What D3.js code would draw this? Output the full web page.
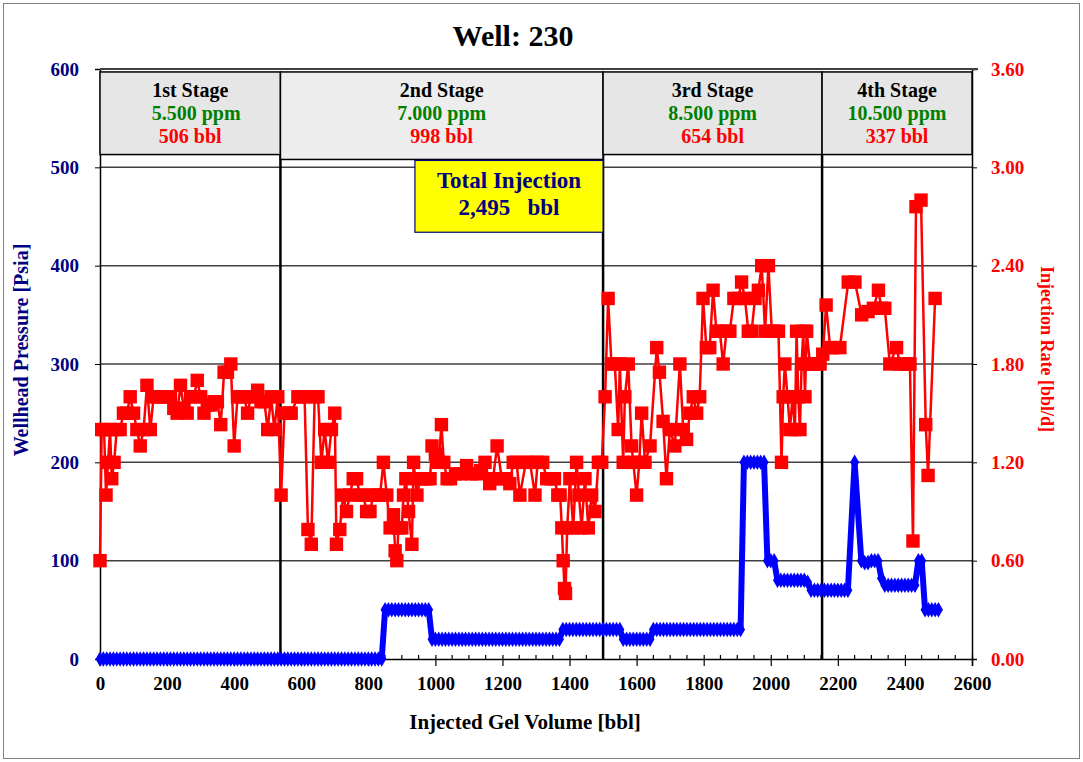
<!DOCTYPE html>
<html>
<head>
<meta charset="utf-8">
<script src="https://cdn.jsdelivr.net/npm/d3@7"></script>
<style>
  html, body { margin: 0; padding: 0; background: #ffffff; }
  svg text { font-family: "Liberation Serif", "Times New Roman", serif; font-weight: bold; }
</style>
</head>
<body>
<script>
// ---------- data ----------
const chartTitle = "Well: 230";
const xTicks = [0, 200, 400, 600, 800, 1000, 1200, 1400, 1600, 1800, 2000, 2200, 2400, 2600];
const pressureTicks = [0, 100, 200, 300, 400, 500, 600];
const rateTicks = [0, 0.6, 1.2, 1.8, 2.4, 3.0, 3.6];

const stageNames = ["1st Stage", "2nd Stage", "3rd Stage", "4th Stage"];
const stagePpm = ["5.500 ppm", "7.000 ppm", "8.500 ppm", "10.500 ppm"];
const stageVolumes = [506, 998, 654, 337];
// cumulative gel volume where each stage starts / the axis ends
const stageStarts = [0, 538, 1500, 2153];
const axisEnd = 2600;

// wellhead pressure (psia) against cumulative gel volume (bbl)
const pressureVolume = [
  0, 10, 20, 30, 40, 50, 60, 70, 80, 90,
  100, 110, 120, 130, 140, 150, 160, 170, 180, 190,
  200, 210, 220, 230, 240, 250, 260, 270, 280, 290,
  300, 310, 320, 330, 340, 350, 360, 370, 380, 390,
  400, 410, 420, 430, 440, 450, 460, 470, 480, 490,
  500, 510, 520, 530, 540, 550, 560, 570, 580, 590,
  600, 610, 620, 630, 640, 650, 660, 670, 680, 690,
  700, 710, 720, 730, 740, 750, 760, 770, 780, 790,
  800, 810, 820, 830, 840, 850, 860, 870, 880, 890,
  900, 910, 920, 930, 940, 950, 960, 970, 980, 990,
  1000, 1010, 1020, 1030, 1040, 1050, 1060, 1070, 1080, 1090,
  1100, 1110, 1120, 1130, 1140, 1150, 1160, 1170, 1180, 1190,
  1200, 1210, 1220, 1230, 1240, 1250, 1260, 1270, 1280, 1290,
  1300, 1310, 1320, 1330, 1340, 1350, 1360, 1370, 1380, 1390,
  1400, 1410, 1420, 1430, 1440, 1450, 1460, 1470, 1480, 1490,
  1500, 1510, 1520, 1530, 1540, 1550, 1560, 1570, 1580, 1590,
  1600, 1610, 1620, 1630, 1640, 1650, 1660, 1670, 1680, 1690,
  1700, 1710, 1720, 1730, 1740, 1750, 1760, 1770, 1780, 1790,
  1800, 1810, 1820, 1830, 1840, 1850, 1860, 1870, 1880, 1890,
  1900, 1910, 1920, 1930, 1940, 1950, 1960, 1970, 1980, 1990,
  2000, 2010, 2020, 2030, 2040, 2050, 2060, 2070, 2080, 2090,
  2100, 2110, 2120, 2130, 2140, 2150, 2160, 2170, 2180, 2190,
  2200, 2210, 2220, 2230, 2250, 2270, 2280, 2290, 2300, 2310,
  2320, 2330, 2340, 2350, 2360, 2370, 2380, 2390, 2400, 2410,
  2420, 2430, 2440, 2450, 2460, 2470, 2480, 2490, 2500
];
const pressure = [
  0, 0, 0, 0, 0, 0, 0, 0, 0, 0,
  0, 0, 0, 0, 0, 0, 0, 0, 0, 0,
  0, 0, 0, 0, 0, 0, 0, 0, 0, 0,
  0, 0, 0, 0, 0, 0, 0, 0, 0, 0,
  0, 0, 0, 0, 0, 0, 0, 0, 0, 0,
  0, 0, 0, 0, 0, 0, 0, 0, 0, 0,
  0, 0, 0, 0, 0, 0, 0, 0, 0, 0,
  0, 0, 0, 0, 0, 0, 0, 0, 0, 0,
  0, 0, 0, 0, 0, 50, 50, 50, 50, 50,
  50, 50, 50, 50, 50, 50, 50, 50, 50, 20,
  20, 20, 20, 20, 20, 20, 20, 20, 20, 20,
  20, 20, 20, 20, 20, 20, 20, 20, 20, 20,
  20, 20, 20, 20, 20, 20, 20, 20, 20, 20,
  20, 20, 20, 20, 20, 20, 20, 20, 30, 30,
  30, 30, 30, 30, 30, 30, 30, 30, 30, 30,
  30, 30, 30, 30, 30, 30, 20, 20, 20, 20,
  20, 20, 20, 20, 20, 30, 30, 30, 30, 30,
  30, 30, 30, 30, 30, 30, 30, 30, 30, 30,
  30, 30, 30, 30, 30, 30, 30, 30, 30, 30,
  30, 30, 200, 200, 200, 200, 200, 200, 200, 100,
  100, 100, 80, 80, 80, 80, 80, 80, 80, 80,
  80, 78, 70, 70, 70, 70, 70, 70, 70, 70,
  70, 70, 70, 70, 200, 100, 98, 98, 100, 100,
  100, 82, 75, 75, 75, 75, 75, 75, 75, 75,
  75, 75, 100, 100, 50, 50, 50, 50, 50
];

// injection rate readings (bbl/d) against cumulative volume (bbl)
const rateVolume = [
  0, 5, 12, 18, 24, 30, 35, 42, 50, 60, 70, 80, 90, 100, 110, 120, 130, 140, 150, 160,
  170, 180, 190, 200, 210, 220, 230, 240, 250, 260, 270, 280, 290, 300, 310, 320, 330, 340, 350, 360,
  370, 380, 390, 400, 410, 420, 430, 440, 450, 460, 470, 480, 490, 500, 510, 520, 530, 540, 550, 560,
  570, 590, 600, 610, 620, 630, 640, 650, 660, 670, 680, 690, 700, 705, 715, 725, 735, 745, 755, 765,
  775, 785, 795, 805, 815, 825, 835, 845, 855, 865, 875, 880, 885, 890, 900, 905, 912, 920, 930, 935,
  945, 955, 965, 975, 984, 990, 1000, 1010, 1018, 1025, 1035, 1045, 1060, 1075, 1093, 1108, 1123, 1135, 1148, 1162,
  1172, 1184, 1198, 1212, 1222, 1232, 1242, 1252, 1270, 1282, 1297, 1305, 1320, 1332, 1345, 1355, 1365, 1372, 1377, 1381,
  1385, 1388, 1393, 1401, 1411, 1421, 1428, 1436, 1446, 1456, 1466, 1476, 1486, 1496, 1506, 1515, 1525, 1535, 1545, 1550,
  1560, 1565, 1575, 1585, 1590, 1600, 1608, 1615, 1625, 1640, 1660, 1668, 1679, 1689, 1699, 1714, 1729, 1739, 1749, 1759,
  1769, 1779, 1788, 1798, 1808, 1818, 1828, 1838, 1848, 1858, 1868, 1878, 1890, 1903, 1913, 1923, 1933, 1943, 1953, 1963,
  1973, 1983, 1993, 2003, 2013, 2023, 2032, 2037, 2042, 2050, 2057, 2065, 2072, 2077, 2082, 2087, 2092, 2097, 2102, 2107,
  2117, 2127, 2137, 2147, 2155, 2165, 2177, 2187, 2206, 2231, 2251, 2271, 2290, 2306, 2321, 2330, 2340, 2355, 2375, 2385,
  2395, 2405, 2415, 2424, 2433, 2448, 2462, 2469, 2490
];
const rate = [
  0.60, 1.40, 1.40, 1.00, 1.20, 1.40, 1.10, 1.20, 1.40, 1.40, 1.50, 1.50, 1.60, 1.50, 1.40, 1.30, 1.40, 1.67, 1.40, 1.60,
  1.60, 1.60, 1.60, 1.60, 1.60, 1.53, 1.50, 1.67, 1.53, 1.50, 1.60, 1.60, 1.70, 1.60, 1.50, 1.55, 1.55, 1.57, 1.57, 1.43,
  1.75, 1.75, 1.80, 1.30, 1.60, 1.60, 1.60, 1.50, 1.60, 1.60, 1.64, 1.57, 1.57, 1.40, 1.60, 1.40, 1.60, 1.00, 1.50, 1.50,
  1.50, 1.60, 1.60, 1.60, 0.79, 0.70, 1.60, 1.60, 1.20, 1.40, 1.20, 1.40, 1.50, 0.70, 0.79, 1.00, 0.90, 1.00, 1.10, 1.10,
  1.00, 1.00, 0.90, 0.90, 1.00, 1.00, 1.00, 1.20, 1.00, 0.80, 0.88, 0.66, 0.60, 0.80, 0.80, 1.00, 1.10, 0.90, 0.70, 1.20,
  1.00, 1.10, 1.10, 1.10, 1.10, 1.30, 1.25, 1.20, 1.43, 1.20, 1.10, 1.10, 1.13, 1.13, 1.18, 1.13, 1.13, 1.15, 1.20, 1.07,
  1.10, 1.30, 1.10, 1.10, 1.07, 1.20, 1.20, 1.00, 1.20, 1.20, 1.00, 1.20, 1.20, 1.10, 1.10, 1.10, 1.00, 1.00, 0.80, 0.60,
  0.43, 0.40, 0.80, 1.10, 0.80, 1.20, 1.00, 0.80, 1.10, 0.80, 1.00, 0.90, 1.20, 1.20, 1.60, 2.20, 1.80, 1.80, 1.40, 1.80,
  1.20, 1.60, 1.80, 1.30, 1.20, 1.00, 1.20, 1.50, 1.20, 1.30, 1.90, 1.75, 1.45, 1.10, 1.40, 1.30, 1.80, 1.40, 1.34, 1.50,
  1.60, 1.50, 1.60, 2.20, 1.90, 1.90, 2.25, 2.00, 2.00, 1.80, 2.00, 2.00, 2.20, 2.20, 2.30, 2.20, 2.00, 2.00, 2.20, 2.25,
  2.40, 2.00, 2.40, 2.00, 2.00, 2.00, 1.20, 1.60, 1.80, 1.60, 1.40, 1.60, 1.40, 2.00, 1.60, 1.40, 1.80, 2.00, 1.60, 2.00,
  1.80, 1.80, 1.80, 1.80, 1.86, 2.16, 1.90, 1.90, 1.90, 2.30, 2.30, 2.10, 2.12, 2.14, 2.25, 2.14, 2.14, 1.80, 1.90, 1.80,
  1.80, 1.80, 1.80, 0.72, 2.76, 2.80, 1.43, 1.12, 2.20
];

// ---------- layout ----------
const W = 1083, H = 762;
const plot = { left: 100, right: 972, top: 69, bottom: 659 };
const serif = '"Liberation Serif", "Times New Roman", serif';
const navy = "#000080", red = "#ff0000", blue = "#0000ff", green = "#008000";

const svg = d3.select("body").append("svg").attr("width", W).attr("height", H);

// outer chart frame
svg.append("rect").attr("x", 3.5).attr("y", 3.5).attr("width", W - 7).attr("height", H - 7)
  .attr("fill", "#fff").attr("stroke", "#808080").attr("stroke-width", 1);

const x = d3.scaleLinear().domain([0, axisEnd]).range([plot.left, plot.right]);
const yP = d3.scaleLinear().domain([0, 600]).range([plot.bottom, plot.top]);
const yR = d3.scaleLinear().domain([0, 3.6]).range([plot.bottom, plot.top]);

// horizontal gridlines
svg.append("g").selectAll("line").data(pressureTicks.filter(d => d > 0)).join("line")
  .attr("x1", plot.left).attr("x2", plot.right)
  .attr("y1", d => yP(d)).attr("y2", d => yP(d))
  .attr("stroke", "#404040").attr("stroke-width", 1.5);

// axes
const xAxis = d3.axisBottom(x).tickValues(xTicks).tickSize(7).tickPadding(10).tickFormat(d3.format("d"));
const gx = svg.append("g").attr("transform", `translate(0,${plot.bottom})`).call(xAxis);
gx.select(".domain").attr("stroke", "#000").attr("stroke-width", 1.5);
gx.selectAll(".tick line").attr("stroke", "#000").attr("stroke-width", 1.2).attr("y1", -4);
gx.selectAll(".tick text").attr("font-family", serif).attr("font-size", 19).attr("fill", "#000").attr("dy", "0.75em");
// minor ticks every 50 bbl, pointing into the plot
svg.append("g").selectAll("line").data(d3.range(50, axisEnd, 50).filter(v => v % 200 !== 0)).join("line")
  .attr("x1", d => x(d)).attr("x2", d => x(d))
  .attr("y1", plot.bottom - 4).attr("y2", plot.bottom)
  .attr("stroke", "#000").attr("stroke-width", 1.2);

const yAxisL = d3.axisLeft(yP).tickValues(pressureTicks).tickSize(5).tickPadding(16).tickFormat(d3.format("d"));
const gl = svg.append("g").attr("transform", `translate(${plot.left},0)`).call(yAxisL);
gl.select(".domain").attr("stroke", "#000").attr("stroke-width", 1.5);
gl.selectAll(".tick line").attr("stroke", "#000");
gl.selectAll(".tick text").attr("font-family", serif).attr("font-size", 19).attr("fill", navy);

const yAxisR = d3.axisRight(yR).tickValues(rateTicks).tickSize(5).tickPadding(14).tickFormat(d3.format(".2f"));
const gr = svg.append("g").attr("transform", `translate(${plot.right},0)`).call(yAxisR);
gr.select(".domain").attr("stroke", "#000").attr("stroke-width", 1.5);
gr.selectAll(".tick line").attr("stroke", "#000");
gr.selectAll(".tick text").attr("font-family", serif).attr("font-size", 19).attr("fill", red);

// stage dividers
const boxTop = yP(597), boxBottom = yP(513), wideBoxBottom = yP(508);
svg.append("g").selectAll("line").data(stageStarts.slice(1)).join("line")
  .attr("x1", d => x(d)).attr("x2", d => x(d))
  .attr("y1", boxBottom).attr("y2", plot.bottom)
  .attr("stroke", "#000").attr("stroke-width", 2.5);

// wellhead pressure series
const pressurePts = pressureVolume.map((v, i) => ({ v, p: pressure[i] }));
svg.append("path").datum(pressurePts)
  .attr("fill", "none").attr("stroke", blue).attr("stroke-width", 6).attr("stroke-linejoin", "round")
  .attr("d", d3.line().x(d => x(d.v)).y(d => yP(d.p)));
svg.append("g").selectAll("path").data(pressurePts).join("path")
  .attr("transform", d => `translate(${x(d.v)},${yP(d.p)})`)
  .attr("d", d3.symbol(d3.symbolDiamond, 70))
  .attr("fill", blue);

// injection rate series
const ratePts = rateVolume.map((v, i) => ({ v, r: rate[i] }));
svg.append("path").datum(ratePts)
  .attr("fill", "none").attr("stroke", red).attr("stroke-width", 2.5).attr("stroke-linejoin", "round")
  .attr("d", d3.line().x(d => x(d.v)).y(d => yR(d.r)));
svg.append("g").selectAll("path").data(ratePts).join("path")
  .attr("transform", d => `translate(${x(d.v)},${yR(d.r)})`)
  .attr("d", d3.symbol(d3.symbolSquare, 180))
  .attr("fill", red);

// top border of the plot
svg.append("line").attr("x1", plot.left).attr("x2", plot.right + 6)
  .attr("y1", plot.top).attr("y2", plot.top).attr("stroke", "#404040").attr("stroke-width", 2);

// stage header boxes
const stages = stageNames.map((name, i) => ({
  name, ppm: stagePpm[i], vol: stageVolumes[i],
  x0: stageStarts[i], x1: i < stageStarts.length - 1 ? stageStarts[i + 1] : axisEnd,
  wide: i === 1
}));
const sg = svg.append("g").selectAll("g").data(stages).join("g");
sg.append("rect")
  .attr("x", d => x(d.x0)).attr("y", boxTop)
  .attr("width", d => x(d.x1) - x(d.x0))
  .attr("height", d => (d.wide ? wideBoxBottom : boxBottom) - boxTop)
  .attr("fill", d => d.wide ? "#ededed" : "#e6e6e6").attr("stroke", "#000").attr("stroke-width", 1.5);
sg.append("text").text(d => d.name)
  .attr("x", d => (x(d.x0) + x(d.x1)) / 2).attr("y", boxTop + 25)
  .attr("text-anchor", "middle").attr("font-size", 20).attr("fill", "#000");
sg.append("text").text(d => d.ppm)
  .attr("x", (d, i) => (x(d.x0) + x(d.x1)) / 2 + (i === 0 ? 6 : 0)).attr("y", boxTop + 48)
  .attr("text-anchor", "middle").attr("font-size", 20).attr("fill", green);
sg.append("text").text(d => `${d.vol} bbl`)
  .attr("x", d => (x(d.x0) + x(d.x1)) / 2).attr("y", boxTop + 71)
  .attr("text-anchor", "middle").attr("font-size", 20).attr("fill", red);

// total injection callout
const totalVol = d3.sum(stageVolumes);
const tb = { x0: 939, x1: stageStarts[2], top: yP(507), bottom: yP(434) };
svg.append("rect")
  .attr("x", x(tb.x0)).attr("y", tb.top)
  .attr("width", x(tb.x1) - x(tb.x0)).attr("height", tb.bottom - tb.top)
  .attr("fill", "#ffff00").attr("stroke", navy).attr("stroke-width", 1.2);
svg.append("text").text("Total Injection")
  .attr("x", (x(tb.x0) + x(tb.x1)) / 2).attr("y", tb.top + 28)
  .attr("text-anchor", "middle").attr("font-size", 23).attr("fill", navy);
svg.append("text").text(`${d3.format(",")(totalVol)}\u00a0\u00a0 bbl`)
  .attr("x", (x(tb.x0) + x(tb.x1)) / 2).attr("y", tb.top + 55)
  .attr("text-anchor", "middle").attr("font-size", 23).attr("fill", navy);

// titles
svg.append("text").text(chartTitle)
  .attr("x", 513).attr("y", 46).attr("text-anchor", "middle")
  .attr("font-size", 30).attr("fill", "#000");
svg.append("text").text("Injected Gel Volume [bbl]")
  .attr("x", 525).attr("y", 729).attr("text-anchor", "middle")
  .attr("font-size", 21).attr("fill", "#000");
svg.append("text").text("Wellhead Pressure [Psia]")
  .attr("transform", `translate(28,350) rotate(-90)`)
  .attr("text-anchor", "middle").attr("font-size", 20).attr("fill", navy);
svg.append("text").text("Injection Rate [bbl/d]")
  .attr("transform", `translate(1041,349) rotate(90)`)
  .attr("text-anchor", "middle").attr("font-size", 18).attr("fill", red);
</script>
</body>
</html>
